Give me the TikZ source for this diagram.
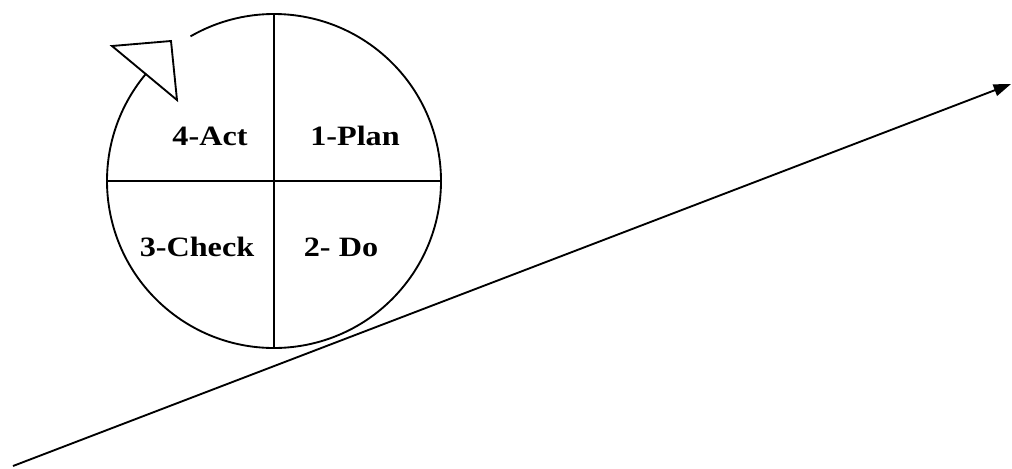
\documentclass[tikz,border=0pt]{standalone}
\usepackage{fontspec}
\setmainfont{Liberation Serif}
\usetikzlibrary{arrows.meta}
\tikzset{
  ln/.style={line width=1.4pt, black},
  lbl/.style={anchor=base, inner sep=0pt, font=\fontsize{21}{24}\selectfont\bfseries}
}
\newcommand{\wtxt}[1]{\scalebox{1.15}[1]{#1}}
\begin{document}
\begin{tikzpicture}[x=0.75pt,y=-0.75pt]
\useasboundingbox (0,0) rectangle (1012,468);
% circle with gap (y axis flipped: angles mirrored)
\coordinate (c) at (274,181);
\draw[ln] (c) ++(-140:167) arc[start angle=-140, end angle=-480, radius=167];
% dividers
\coordinate (top) at (274,14);
\coordinate (bot) at (274,348);
\coordinate (lft) at (107,181);
\coordinate (rgt) at (441,181);
\draw[ln] (top) -- (bot);
\draw[ln] (lft) -- (rgt);
% arrowhead triangle (open)
\coordinate (t1) at (112,46);
\coordinate (t2) at (171,41);
\coordinate (t3) at (177,100);
\draw[ln, line join=miter] (t1) -- (t2) -- (t3) -- cycle;
% labels
\node[lbl] (act) at (210,145) {\wtxt{4-Act}};
\node[lbl] (plan) at (355,145) {\wtxt{1-Plan}};
\node[lbl] (check) at (197,256) {\wtxt{3-Check}};
\node[lbl] (do) at (341,256) {\wtxt{2- Do}};
% long arrow
\coordinate (s) at (13,466);
\coordinate (e) at (1011,84);
\draw[ln, -{Triangle[length=13pt,width=9pt]}] (s) -- (e);
\end{tikzpicture}
\end{document}
